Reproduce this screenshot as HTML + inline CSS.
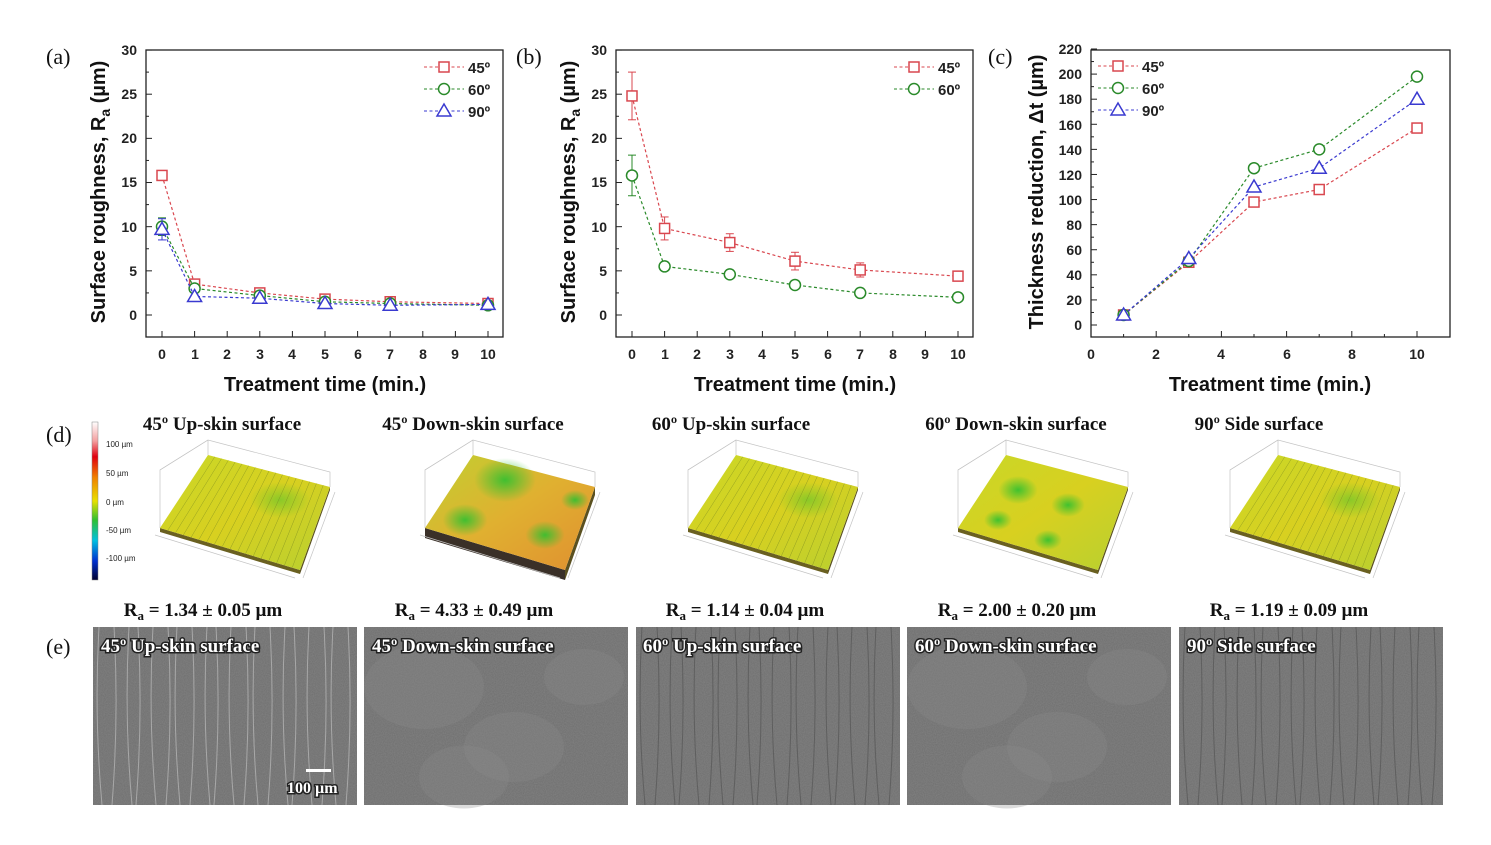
<!DOCTYPE html>
<html><head><meta charset="utf-8"><style>
body{margin:0;background:#fff;}
svg{display:block;font-family:"Liberation Sans",Arial,sans-serif;}
.t{font-size:14px;font-weight:bold;fill:#222;}
.ti{font-size:20px;font-weight:bold;fill:#111;}
.lg{font-size:15px;font-weight:bold;fill:#222;}
.pl{font-family:"Liberation Serif",serif;font-size:22px;fill:#111;}
.hd{font-family:"Liberation Serif",serif;font-size:19px;font-weight:bold;fill:#111;}
.sem{font-family:"Liberation Serif",serif;font-size:19px;font-weight:bold;fill:#fff;stroke:#222;stroke-width:3px;paint-order:stroke;}
.cb{font-size:8px;fill:#222;}
</style></head><body>
<svg id="s" width="1491" height="845" viewBox="0 0 1491 845">
<defs>
<linearGradient id="cbar" x1="0" y1="0" x2="0" y2="1">
<stop offset="0" stop-color="#fff"/><stop offset="0.12" stop-color="#f4a0a0"/><stop offset="0.22" stop-color="#e00010"/><stop offset="0.35" stop-color="#f08000"/><stop offset="0.5" stop-color="#e8e000"/><stop offset="0.62" stop-color="#30c030"/><stop offset="0.75" stop-color="#00c0e0"/><stop offset="0.88" stop-color="#0030d0"/><stop offset="1" stop-color="#000030"/></linearGradient>
<linearGradient id="ys" x1="0" y1="0" x2="1" y2="1"><stop offset="0" stop-color="#c8d828"/><stop offset="0.5" stop-color="#d8d020"/><stop offset="1" stop-color="#b8d030"/></linearGradient>
<linearGradient id="os" x1="0" y1="0" x2="1" y2="1"><stop offset="0" stop-color="#c0d030"/><stop offset="0.5" stop-color="#e0b030"/><stop offset="1" stop-color="#e09030"/></linearGradient>
<radialGradient id="gr" cx="0.5" cy="0.5" r="0.5"><stop offset="0" stop-color="#30c030" stop-opacity="0.9"/><stop offset="1" stop-color="#30c030" stop-opacity="0"/></radialGradient>
<filter id="noise" x="0" y="0" width="1" height="1" filterUnits="objectBoundingBox"><feTurbulence type="fractalNoise" baseFrequency="0.9" numOctaves="2" seed="3"/><feColorMatrix type="matrix" values="0 0 0 0 0.45 0 0 0 0 0.45 0 0 0 0 0.45 0 0 0 0.6 0"/></filter>
</defs>
<g id="g"></g>
<text class="pl" x="46" y="64">(a)</text><text class="pl" x="516" y="64">(b)</text><text class="pl" x="988" y="64">(c)</text>
<text class="pl" x="46" y="442">(d)</text><text class="pl" x="46" y="654">(e)</text>
<g class="t" text-anchor="end">
<text x="137" y="320">0</text><text x="137" y="276">5</text><text x="137" y="232">10</text><text x="137" y="187">15</text><text x="137" y="143">20</text><text x="137" y="99">25</text><text x="137" y="55">30</text>
<text x="607" y="320">0</text><text x="607" y="276">5</text><text x="607" y="232">10</text><text x="607" y="187">15</text><text x="607" y="143">20</text><text x="607" y="99">25</text><text x="607" y="55">30</text>
<text x="1082" y="330">0</text><text x="1082" y="305">20</text><text x="1082" y="280">40</text><text x="1082" y="255">60</text><text x="1082" y="230">80</text><text x="1082" y="205">100</text><text x="1082" y="180">120</text><text x="1082" y="155">140</text><text x="1082" y="130">160</text><text x="1082" y="104">180</text><text x="1082" y="79">200</text><text x="1082" y="54">220</text>
</g>
<g class="t" text-anchor="middle">
<text x="162" y="359">0</text><text x="195" y="359">1</text><text x="227" y="359">2</text><text x="260" y="359">3</text><text x="292" y="359">4</text><text x="325" y="359">5</text><text x="358" y="359">6</text><text x="390" y="359">7</text><text x="423" y="359">8</text><text x="455" y="359">9</text><text x="488" y="359">10</text>
<text x="632" y="359">0</text><text x="665" y="359">1</text><text x="697" y="359">2</text><text x="730" y="359">3</text><text x="762" y="359">4</text><text x="795" y="359">5</text><text x="828" y="359">6</text><text x="860" y="359">7</text><text x="893" y="359">8</text><text x="925" y="359">9</text><text x="958" y="359">10</text>
<text x="1091" y="359">0</text><text x="1156" y="359">2</text><text x="1221" y="359">4</text><text x="1287" y="359">6</text><text x="1352" y="359">8</text><text x="1417" y="359">10</text>
</g>
<g class="ti" text-anchor="middle">
<text x="325" y="391">Treatment time (min.)</text><text x="795" y="391">Treatment time (min.)</text><text x="1270" y="391">Treatment time (min.)</text>
<text transform="translate(105,192) rotate(-90)">Surface roughness, R<tspan font-size="14" dy="5">a</tspan><tspan dy="-5"> (µm)</tspan></text>
<text transform="translate(575,192) rotate(-90)">Surface roughness, R<tspan font-size="14" dy="5">a</tspan><tspan dy="-5"> (µm)</tspan></text>
<text transform="translate(1043,192) rotate(-90)">Thickness reduction, Δt (µm)</text>
</g>
<g class="lg">
<text x="468" y="73">45º</text><text x="468" y="95">60º</text><text x="468" y="117">90º</text>
<text x="938" y="73">45º</text><text x="938" y="95">60º</text>
<text x="1142" y="72">45º</text><text x="1142" y="94">60º</text><text x="1142" y="116">90º</text>
</g>
<rect x="92" y="422" width="6" height="158" fill="url(#cbar)" stroke="#888" stroke-width="0.5"/>
<g class="cb"><text x="106" y="447">100 µm</text><text x="106" y="476">50 µm</text><text x="106" y="505">0 µm</text><text x="106" y="533">-50 µm</text><text x="106" y="561">-100 µm</text></g>
<g id="d3"></g>
<g class="hd" text-anchor="middle">
<text x="222" y="430">45º Up-skin surface</text><text x="473" y="430">45º Down-skin surface</text><text x="731" y="430">60º Up-skin surface</text><text x="1016" y="430">60º Down-skin surface</text><text x="1259" y="430">90º Side surface</text>
</g>
<g class="hd" text-anchor="middle" font-size="20">
<text x="203" y="616">R<tspan font-size="13" dy="4">a</tspan><tspan dy="-4"> = 1.34 ± 0.05 µm</tspan></text>
<text x="474" y="616">R<tspan font-size="13" dy="4">a</tspan><tspan dy="-4"> = 4.33 ± 0.49 µm</tspan></text>
<text x="745" y="616">R<tspan font-size="13" dy="4">a</tspan><tspan dy="-4"> = 1.14 ± 0.04 µm</tspan></text>
<text x="1017" y="616">R<tspan font-size="13" dy="4">a</tspan><tspan dy="-4"> = 2.00 ± 0.20 µm</tspan></text>
<text x="1289" y="616">R<tspan font-size="13" dy="4">a</tspan><tspan dy="-4"> = 1.19 ± 0.09 µm</tspan></text>
</g>
<g id="sem"></g>
<g class="sem">
<text x="101" y="652">45º Up-skin surface</text><text x="372" y="652">45º Down-skin surface</text><text x="643" y="652">60º Up-skin surface</text><text x="915" y="652">60º Down-skin surface</text><text x="1187" y="652">90º Side surface</text>
<text x="287" y="793" font-size="16">100 µm</text>
</g>
<rect x="306" y="769" width="25" height="3" fill="#fff"/>
</svg>
<script>
const NS="http://www.w3.org/2000/svg",g=document.getElementById('g'),sg=document.getElementById('sem'),dg=document.getElementById('d3');
function el(t,a,p){const e=document.createElementNS(NS,t);for(const k in a)e.setAttribute(k,a[k]);(p||g).appendChild(e);return e;}
function frame(x0,x1,y0,y1){el('rect',{x:x0,y:y0,width:x1-x0,height:y1-y0,fill:'none',stroke:'#222','stroke-width':1.3});}
function tickX(px,major){el('line',{x1:px,x2:px,y1:337,y2:major?331:334,stroke:'#222'});}
function tickY(x0,py,major){el('line',{x1:x0,x2:x0+(major?6:3),y1:py,y2:py,stroke:'#222'});}
frame(146,503,50,337);frame(616,973,50,337);frame(1091,1450,50,337);
for(let i=0;i<=10;i++){tickX(162+32.6*i,1);tickX(632+32.6*i,1);}
for(let i=0;i<=10;i++){tickX(1091+32.6*i,i%2==0);}
for(let k=-1;k<=12;k++){let py=315-22.08*k;if(py>=50&&py<=337){tickY(146,py,k%2==0);tickY(616,py,k%2==0);}}
for(let k=0;k<=22;k++){tickY(1091,325-12.545*k,k%2==0);}
const R='#d9474f',G='#2a8a2a',B='#3a3ad0';
function mk(t,x,y,c,s){s=s||6;
 if(t=='s')el('rect',{x:x-s+1,y:y-s+1,width:2*s-2,height:2*s-2,fill:'#fff',stroke:c,'stroke-width':1.5});
 else if(t=='c')el('circle',{cx:x,cy:y,r:s-0.5,fill:'#fff',stroke:c,'stroke-width':1.5});
 else el('path',{d:`M${x} ${y-s-1}L${x+s+1} ${y+s-1}L${x-s-1} ${y+s-1}Z`,fill:'#fff',stroke:c,'stroke-width':1.5});}
function series(xs,ys,fx,fy,t,c,err){
 const pts=xs.map((x,i)=>[fx(x),fy(ys[i])]);
 el('polyline',{points:pts.map(p=>p.join(',')).join(' '),fill:'none',stroke:c,'stroke-width':1.2,'stroke-dasharray':'3,2.5'});
 if(err)pts.forEach((p,i)=>{if(err[i]){const a=fy(ys[i]+err[i]),b=fy(ys[i]-err[i]);el('line',{x1:p[0],x2:p[0],y1:a,y2:b,stroke:c});el('line',{x1:p[0]-4,x2:p[0]+4,y1:a,y2:a,stroke:c});el('line',{x1:p[0]-4,x2:p[0]+4,y1:b,y2:b,stroke:c});}});
 pts.forEach(p=>mk(t,p[0],p[1],c));}
const xa=[0,1,3,5,7,10];
let fxa=x=>162+32.6*x,fya=y=>315-8.833*y;
series(xa,[15.8,3.5,2.5,1.8,1.5,1.3],fxa,fya,'s',R);
series(xa,[10,3,2.2,1.5,1.3,1.1],fxa,fya,'c',G,[1]);
series(xa,[9.7,2.1,1.9,1.3,1.1,1.2],fxa,fya,'t',B,[1.2]);
let fxb=x=>632+32.6*x;
series(xa,[24.8,9.8,8.2,6.1,5.1,4.4],fxb,fya,'s',R,[2.7,1.3,1,1,0.8,0.3]);
series(xa,[15.8,5.5,4.6,3.4,2.5,2.0],fxb,fya,'c',G,[2.3,0.3,0.3,0.3,0.3,0.3]);
const xc=[1,3,5,7,10];let fxc=x=>1091+32.6*x,fyc=y=>325-1.2545*y;
series(xc,[8,50,98,108,157],fxc,fyc,'s',R);
series(xc,[8,51,125,140,198],fxc,fyc,'c',G);
series(xc,[8,53,110,125,180],fxc,fyc,'t',B);
function leg(x,y,c,t){el('line',{x1:x,x2:x+40,y1:y,y2:y,stroke:c,'stroke-dasharray':'3,2.5'});mk(t,x+20,y,c);}
leg(424,67,R,'s');leg(424,89,G,'c');leg(424,111,B,'t');
leg(894,67,R,'s');leg(894,89,G,'c');
leg(1098,66,R,'s');leg(1098,88,G,'c');leg(1098,110,B,'t');
// 3D surfaces
const Ls=[160,425,688,958,1230],kinds=[0,1,0,1,0];
const P=a=>a.map(p=>p.join(',')).join(' ');
Ls.forEach((L,i)=>{
 const A=[L,528],Bk=[L+48,455],Rt=[L+170,487],F=[L+140,570];
 const gl={stroke:'#c4c4c4','stroke-width':0.7,fill:'none'};
 // back frame
 el('polyline',Object.assign({points:P([[L,528],[L,470],[L+48,440],[L+170,472],[L+170,487]])},gl),dg);
 el('line',Object.assign({x1:L+48,y1:440,x2:L+48,y2:455},gl),dg);
 el('line',Object.assign({x1:L,y1:470,x2:L+48,y2:440},gl),dg);
 // side
 el('polygon',{points:P([A,F,[F[0],F[1]+(i==1?10:4)],[A[0],A[1]+(i==1?10:4)]]),fill:i==1?'#3a3028':'#6a6020'},dg);
 el('polygon',{points:P([F,Rt,[Rt[0],Rt[1]+(i==1?8:3)],[F[0],F[1]+(i==1?10:4)]]),fill:'#5a5020'},dg);
 el('polygon',{points:P([A,Bk,Rt,F]),fill:i==1?'url(#os)':'url(#ys)'},dg);
 if(kinds[i]){const bl=i==1?[[80,480,22],[40,520,16],[120,535,14],[150,500,10]]:[[60,490,14],[110,505,12],[40,520,10],[90,540,10]];
  bl.forEach(b=>el('ellipse',{cx:L+b[0],cy:b[1],rx:b[2]*1.4,ry:b[2],fill:'url(#gr)'},dg));}
 else{el('ellipse',{cx:L+120,cy:500,rx:30,ry:18,fill:'url(#gr)',opacity:0.5},dg);
  for(let k=1;k<18;k++){const a=k/18;el('line',{x1:Bk[0]+(Rt[0]-Bk[0])*a,y1:Bk[1]+(Rt[1]-Bk[1])*a,x2:A[0]+(F[0]-A[0])*a,y2:A[1]+(F[1]-A[1])*a,stroke:'#7a8a20','stroke-width':0.5,opacity:0.7},dg);}}
 // front axis lines
 el('line',Object.assign({x1:L-5,y1:535,x2:F[0]-5,y2:F[1]+8},gl),dg);
 el('line',Object.assign({x1:F[0]+3,y1:F[1]+8,x2:Rt[0]+5,y2:Rt[1]+5},gl),dg);
});
// SEM images
[93,364,636,907,1179].forEach((x0,i)=>{
 el('rect',{x:x0,y:627,width:264,height:178,fill:'#6e6e6e'},sg);
 el('rect',{x:x0,y:627,width:264,height:178,filter:'url(#noise)',opacity:0.5},sg);
 if(i%2==1){[[60,60,60],[150,120,50],[220,50,40],[100,150,45]].forEach(b=>el('ellipse',{cx:x0+b[0],cy:627+b[1],rx:b[2],ry:b[2]*0.7,fill:'#8a8a8a',opacity:0.3},sg));}
 else{for(let k=0;k<20;k++){const xx=x0+6+k*13+(k%3)*2;el('path',{d:`M${xx} 627 Q${xx+(k%2?5:-5)} 716 ${xx+(k%2?-2:3)} 805`,stroke:i==0?'#c8c8c8':'#4e4e4e','stroke-width':1,fill:'none',opacity:0.6},sg);}}
});
</script>
</body></html>
